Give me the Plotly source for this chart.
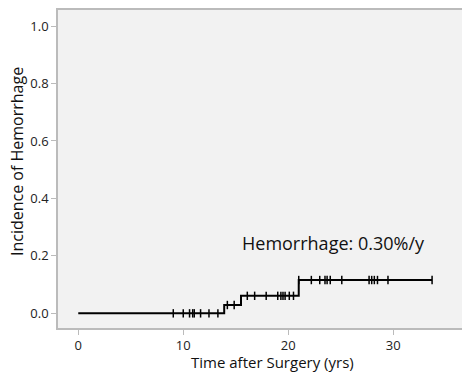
import plotly.graph_objects as go

# Step curve (cumulative incidence)
step_times = [0, 13.9, 15.5, 21.0, 33.7]
step_values = [0.0, 0.029, 0.061, 0.116, 0.116]

# Censored observations
censor_times = [9.05, 10.0, 10.6, 10.9, 11.05, 11.65, 12.45, 13.3,
                14.2, 14.85,
                16.1, 16.8, 17.9, 19.0, 19.3, 19.5, 19.7, 20.1, 20.5,
                21.0, 22.2, 23.0, 23.5, 23.7, 24.0, 25.1, 27.7, 27.95, 28.2, 28.5, 29.5, 33.7]

def level_at(t):
    v = step_values[0]
    for st, sv in zip(step_times, step_values):
        if t >= st:
            v = sv
    return v

censor_values = [level_at(t) for t in censor_times]

x_ticks = [0, 10, 20, 30]
y_ticks = [0.0, 0.2, 0.4, 0.6, 0.8, 1.0]

fig = go.Figure()
fig.add_trace(go.Scatter(x=step_times, y=step_values, mode="lines",
                         line=dict(shape="hv", color="black", width=2),
                         hoverinfo="skip", showlegend=False))
fig.add_trace(go.Scatter(x=censor_times, y=censor_values, mode="markers",
                         marker=dict(symbol="line-ns-open", size=6, color="black",
                                     line=dict(color="black", width=1.5)),
                         showlegend=False))

fig.add_annotation(x=24.35, y=0.245, xref="x", yref="y", text="Hemorrhage: 0.30%/y",
                   showarrow=False, font=dict(family="Open Sans", size=18, color="#111"))

fig.add_annotation(x=0.53, y=-0.108, xref="paper", yref="paper", text="Time after Surgery (yrs)",
                   showarrow=False, xanchor="center", yanchor="middle",
                   font=dict(family="Open Sans", size=15, color="#111"))
fig.add_annotation(x=-0.1015, y=0.525, xref="paper", yref="paper", text="Incidence of Hemorrhage",
                   showarrow=False, xanchor="center", yanchor="middle", textangle=-90,
                   font=dict(family="Open Sans", size=16, color="#111"))

axis_font = dict(family="Open Sans", size=13, color="#222")
fig.update_layout(
    width=462, height=373,
    margin=dict(l=58, r=0, t=10, b=45, autoexpand=False),
    paper_bgcolor="white", plot_bgcolor="#f2f2f2",
    font=dict(family="Open Sans"),
    xaxis=dict(range=[-1.93, 36.55], tickvals=x_ticks, ticks="outside", ticklen=5,
               tickcolor="#bbbbbb", showgrid=False, zeroline=False, automargin=False,
               showline=True, linecolor="#bbbbbb", linewidth=1.5, mirror=True,
               tickfont=axis_font),
    yaxis=dict(range=[-0.051, 1.056], tickvals=y_ticks, tickformat=".1f", ticks="outside", ticklen=5,
               tickcolor="#bbbbbb", showgrid=False, zeroline=False, automargin=False,
               showline=True, linecolor="#bbbbbb", linewidth=1.5, mirror=False,
               tickfont=axis_font),
)

fig.write_html("out.html", config={"displayModeBar": False},
               post_script="document.body.style.margin='0';document.body.style.overflow='hidden';")
